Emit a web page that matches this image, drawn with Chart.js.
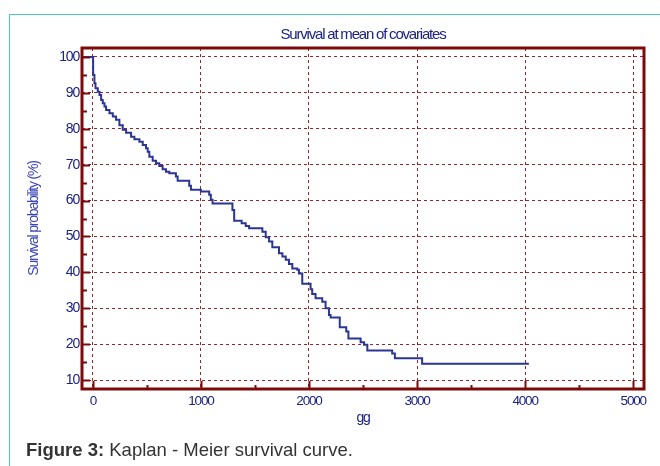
<!DOCTYPE html>
<html>
<head>
<meta charset="utf-8">
<script src="https://cdn.jsdelivr.net/npm/chart.js@4.4.1/dist/chart.umd.min.js"></script>
<style>
  html, body { margin: 0; padding: 0; background: #ffffff; }
  #wrap { position: relative; width: 660px; height: 466px; overflow: hidden; background: #fff; }
  #frame { position: absolute; left: 9px; top: 14px; width: 660px; height: 460px;
           border-left: 1.5px solid #4ecdb4; border-top: 1.5px solid #4ecdb4; box-sizing: border-box; }
  #c { position: absolute; left: 0; top: 0; }
  #caption { position: absolute; left: 26px; top: 440px; font-family: "Liberation Sans", Arial, sans-serif;
             font-size: 18.5px; line-height: 19px; color: #333333; white-space: nowrap; }
  #caption b { font-weight: bold; }
</style>
</head>
<body>
<div id="wrap">
  <div id="frame"></div>
  <canvas id="c" width="660" height="466"></canvas>
  <div id="caption"><b>Figure 3:</b> Kaplan - Meier survival curve.</div>
</div>
<script>
// ---- Data (time, survival %) ----
const times = [-100, 3, 15, 25, 46, 62, 77, 92, 108, 123, 154, 185, 215, 246, 277, 308, 354, 385,
  431, 462, 492, 508, 523, 554, 585, 615, 646, 677, 708, 769, 785, 892, 908, 1000, 1077, 1092, 1108,
  1292, 1308, 1377, 1415, 1446, 1569, 1600, 1631, 1661, 1723, 1754, 1785, 1815, 1846, 1892, 1907,
  1938, 2015, 2030, 2061, 2123, 2154, 2185, 2200, 2285, 2345, 2365, 2478, 2510, 2540, 2770, 2795,
  3047, 4035];
const survival = [100, 95, 92.7, 91.3, 90.3, 89.4, 88, 87.1, 86.2, 85.2, 84.3, 83.4, 82.5, 81, 79.7,
  78.9, 77.8, 77.1, 76.4, 75.5, 74.6, 73.6, 72.2, 71.1, 70.4, 69.6, 68.7, 68, 67.6, 66.7, 65.5, 64.1,
  63, 62.5, 61.6, 60.2, 59.2, 57.4, 54.4, 53.7, 52.9, 52.3, 51.3, 49.8, 48.6, 47, 45.3, 44.4, 43.5,
  42.3, 41.1, 40.7, 39.7, 36.8, 35.3, 34, 32.8, 31.8, 30, 28.1, 27.4, 24.7, 23.5, 21.6, 20.5, 19.8,
  18.2, 17.4, 16.1, 14.5, 14.5];
const xTicks = [0, 1000, 2000, 3000, 4000, 5000];
const xMinorTicks = [500, 1500, 2500, 3500, 4500];
const yTicks = [10, 20, 30, 40, 50, 60, 70, 80, 90, 100];
const yMinorTicks = [15, 25, 35, 45, 55, 65, 75, 85, 95];
const titleText = "Survival at mean of covariates";
const xTitle = "gg";
const yTitle = "Survival probability (%)";

const points = times.map((t, i) => ({ x: t, y: survival[i] }));

const FONT = "'Liberation Sans', Arial, sans-serif";
const RED = '#7d0a0a';
const GRID = '#8e2a2a';
const NAVY = '#1c2384';

const spacing = {
  id: 'spacing',
  beforeDraw(chart) { chart.ctx.letterSpacing = '-1.2px'; }
};

const frameAndTicks = {
  id: 'frameAndTicks',
  afterDraw(chart) {
    const ctx = chart.ctx;
    const a = chart.chartArea;
    const xs = chart.scales.x, ys = chart.scales.y;
    ctx.save();
    ctx.letterSpacing = '0px';
    ctx.strokeStyle = RED;
    ctx.lineWidth = 2;
    ctx.beginPath();
    yTicks.forEach(v => { const p = Math.round(ys.getPixelForValue(v)) + 0.5; ctx.moveTo(a.left, p); ctx.lineTo(a.left + 8, p); });
    yMinorTicks.forEach(v => { const p = Math.round(ys.getPixelForValue(v)) + 0.5; ctx.moveTo(a.left, p); ctx.lineTo(a.left + 5, p); });
    xTicks.forEach(v => { const p = Math.round(xs.getPixelForValue(v)) + 0.5; ctx.moveTo(p, a.bottom); ctx.lineTo(p, a.bottom - 8); });
    xMinorTicks.forEach(v => { const p = Math.round(xs.getPixelForValue(v)) + 0.5; ctx.moveTo(p, a.bottom); ctx.lineTo(p, a.bottom - 4); });
    ctx.stroke();
    ctx.lineWidth = 3;
    ctx.strokeRect(a.left, a.top, a.right - a.left, a.bottom - a.top);
    ctx.restore();
  }
};

new Chart(document.getElementById('c'), {
  type: 'line',
  data: {
    datasets: [{
      data: points,
      stepped: true,
      borderColor: '#2b3594',
      borderWidth: 2,
      pointRadius: 0,
      fill: false,
      tension: 0
    }]
  },
  options: {
    responsive: false,
    animation: false,
    devicePixelRatio: 1,
    layout: { padding: { left: 26, right: 16, top: 0, bottom: 39 } },
    plugins: {
      legend: { display: false },
      tooltip: { enabled: false },
      title: {
        display: true,
        text: titleText,
        fullSize: false,
        color: NAVY,
        font: { family: FONT, size: 15, weight: 'normal', lineHeight: 1.2 },
        padding: { top: 26, bottom: 4 }
      }
    },
    scales: {
      x: {
        type: 'linear',
        min: -100,
        max: 5100,
        afterBuildTicks: s => { s.ticks = xTicks.map(v => ({ value: v })); },
        afterFit: s => { s.height = 38; },
        grid: { color: GRID, lineWidth: 1, drawTicks: false },
        border: { display: false, dash: [3, 3] },
        ticks: { color: NAVY, padding: 4, maxRotation: 0, font: { family: FONT, size: 13.5 },
                 callback: v => String(v) },
        title: { display: true, text: xTitle, color: NAVY, padding: 0,
                 font: { family: FONT, size: 14, lineHeight: 1.2 } }
      },
      y: {
        type: 'linear',
        min: 7.5,
        max: 102.5,
        afterBuildTicks: s => { s.ticks = yTicks.map(v => ({ value: v })); },
        afterFit: s => { s.width = 56; },
        grid: { color: GRID, lineWidth: 1, drawTicks: false },
        border: { display: false, dash: [3, 3] },
        ticks: { color: NAVY, padding: 3, font: { family: FONT, size: 14 }, callback: v => String(v) },
        title: { display: true, text: yTitle, color: '#3b45b8', padding: 0,
                 font: { family: FONT, size: 14, lineHeight: 1.2 } }
      }
    }
  },
  plugins: [spacing, frameAndTicks]
});
</script>
</body>
</html>
